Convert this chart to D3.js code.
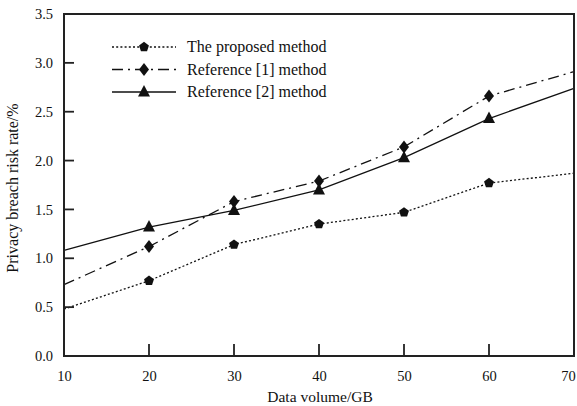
<!DOCTYPE html>
<html><head><meta charset="utf-8">
<script src="https://cdn.jsdelivr.net/npm/d3@7"></script>
<style>body{margin:0;background:#fff}svg{display:block}text{font-family:"Liberation Serif","Times New Roman",serif;fill:#111}</style>
</head><body>
<script>
const dataVolume = [10, 20, 30, 40, 50, 60, 70];
const proposed = [0.48, 0.77, 1.14, 1.35, 1.47, 1.77, 1.87];
const ref1 = [0.73, 1.12, 1.58, 1.79, 2.14, 2.66, 2.91];
const ref2 = [1.08, 1.32, 1.49, 1.70, 2.03, 2.43, 2.74];
const seriesNames = ["The proposed method", "Reference [1] method", "Reference [2] method"];
const xTicks = [10, 20, 30, 40, 50, 60, 70];
const yTicks = [0, 0.5, 1.0, 1.5, 2.0, 2.5, 3.0, 3.5];

const W = 577, H = 406;
const m = {left: 64, right: 3, top: 14, bottom: 50};
const svg = d3.select("body").append("svg").attr("width", W).attr("height", H);
const x = d3.scaleLinear().domain([10, 70]).range([m.left, W - m.right]);
const y = d3.scaleLinear().domain([0, 3.5]).range([H - m.bottom, m.top]);

const series = [
  {name: seriesNames[0], vals: proposed, dash: "2,2.2", marker: "pent"},
  {name: seriesNames[1], vals: ref1, dash: "11,5,2,5", marker: "diamond"},
  {name: seriesNames[2], vals: ref2, dash: null, marker: "tri"}
];

function markerPath(type, cx, cy) {
  if (type === "diamond") return `M${cx},${cy-6.5}L${cx+5},${cy}L${cx},${cy+6.5}L${cx-5},${cy}Z`;
  if (type === "tri") return `M${cx},${cy-7}L${cx+6},${cy+4.5}L${cx-6},${cy+4.5}Z`;
  const r = 5.2; let p = "";
  for (let i = 0; i < 5; i++) {
    const a = -Math.PI/2 + i*2*Math.PI/5;
    p += (i ? "L" : "M") + (cx + r*Math.cos(a)) + "," + (cy + r*Math.sin(a));
  }
  return p + "Z";
}

// Series
const line = d3.line().x((d, i) => x(dataVolume[i])).y(d => y(d));
series.forEach(s => {
  svg.append("path").attr("d", line(s.vals)).attr("fill", "none")
    .attr("stroke", "#111").attr("stroke-width", 1.3)
    .attr("stroke-dasharray", s.dash);
  s.vals.forEach((v, i) => {
    if (i === 0 || i === s.vals.length - 1) return;
    svg.append("path").attr("d", markerPath(s.marker, x(dataVolume[i]), y(v))).attr("fill", "#111");
  });
});

// Frame
svg.append("rect").attr("x", x(10)).attr("y", y(3.5)).attr("width", x(70) - x(10)).attr("height", y(0) - y(3.5))
  .attr("fill", "none").attr("stroke", "#222").attr("stroke-width", 2);

// Axes
const yAxis = d3.axisLeft(y).tickValues(yTicks).tickFormat(d3.format(".1f")).tickSize(0).tickPadding(11);
const gy = svg.append("g").attr("transform", `translate(${x(10)},0)`).call(yAxis);
gy.select(".domain").remove();
gy.selectAll("text").style("font-size", "14.5px").attr("fill", "#111");
svg.append("g").selectAll("line").data(yTicks.filter(t => t > 0 && t < 3.5)).join("line")
  .attr("x1", x(10)).attr("x2", x(10) + 10).attr("y1", d => y(d)).attr("y2", d => y(d))
  .attr("stroke", "#222").attr("stroke-width", 1.8);

const xAxis = d3.axisBottom(x).tickValues(xTicks).tickSize(0).tickPadding(15);
const gx = svg.append("g").attr("transform", `translate(0,${y(0)})`).call(xAxis);
gx.select(".domain").remove();
gx.selectAll("text").style("font-size", "14.5px").attr("fill", "#111")
  .attr("dx", d => d === 70 ? -6 : 0);
svg.append("g").selectAll("line").data(xTicks.filter(t => t > 10 && t < 70)).join("line")
  .attr("x1", d => x(d)).attr("x2", d => x(d)).attr("y1", y(0)).attr("y2", y(0) - 12)
  .attr("stroke", "#222").attr("stroke-width", 1.8);

// Axis titles
svg.append("text").attr("x", (x(10) + x(70)) / 2 + 1).attr("y", 402).attr("text-anchor", "middle")
  .style("font-size", "15.5px").text("Data volume/GB");
svg.append("text").attr("transform", `translate(18,${(y(0) + y(3.5)) / 2 + 3}) rotate(-90)`).attr("text-anchor", "middle")
  .style("font-size", "16px").text("Privacy breach risk rate/%");

// Legend
const lg = svg.append("g");
series.forEach((s, i) => {
  const ly = 47 + i * 22.5;
  lg.append("line").attr("x1", 112).attr("x2", 176).attr("y1", ly).attr("y2", ly)
    .attr("stroke", "#111").attr("stroke-width", 1.3).attr("stroke-dasharray", s.dash);
  lg.append("path").attr("d", markerPath(s.marker, 144, ly)).attr("fill", "#111");
  lg.append("text").attr("x", 187).attr("y", ly + 5).style("font-size", "16px").text(s.name);
});
</script>
</body></html>
